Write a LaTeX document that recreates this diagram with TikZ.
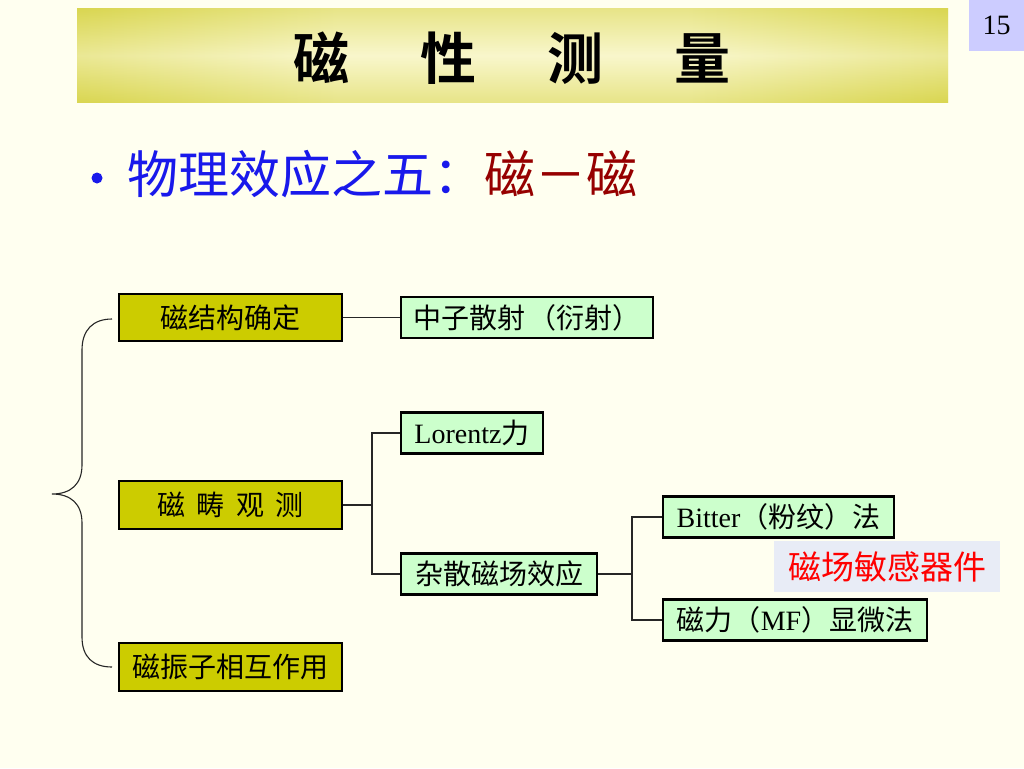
\documentclass[tikz,border=0pt]{standalone}
\usepackage{fontspec}
\setmainfont{Liberation Serif}
\newfontfamily\cjk{Noto Sans CJK SC}
\newfontfamily\cjkb{Noto Sans CJK SC Bold}
\definecolor{bgc}{RGB}{255,255,240}
\definecolor{olv}{RGB}{200,196,12}
\definecolor{lt}{RGB}{249,247,204}
\definecolor{ybox}{RGB}{204,204,0}
\definecolor{gbox}{RGB}{204,255,204}
\definecolor{lav}{RGB}{204,204,255}
\definecolor{bluet}{RGB}{25,25,235}
\definecolor{redt}{RGB}{150,0,0}
\definecolor{sens}{RGB}{232,236,246}
\pgfdeclarehorizontalshading{titlesh}{100bp}{color(0bp)=(olv); color(6bp)=(olv); color(40bp)=(lt); color(60bp)=(lt); color(94bp)=(olv); color(100bp)=(olv)}
\tikzset{
  ybx/.style={draw=black, line width=2.6pt, fill=ybox, inner sep=0pt, font=\fontsize{28}{32}\selectfont},
  gbx/.style={draw=black, line width=2.6pt, fill=gbox, inner sep=0pt, font=\fontsize{28}{32}\selectfont},
  conn/.style={draw=black!85, line width=1.2pt}
}
\begin{document}
\begin{tikzpicture}[x=1pt,y=-1pt]
\useasboundingbox (0,0) rectangle (1024,768);
\fill[bgc] (0,0) rectangle (1024,768);
% title bar
\shade[shading=titlesh] (77,9) rectangle (948,102);
\shade[top color=olv, bottom color=olv, middle color=lt, fill opacity=0.35] (77,9) rectangle (948,102);
\node[font=\fontsize{56}{60}\selectfont] (title) at (512,58) {\cjkb 磁\hspace{71pt}性\hspace{71pt}测\hspace{71pt}量};
% page number
\node[fill=lav, minimum width=55pt, minimum height=51pt, inner sep=0pt, anchor=north west, font=\fontsize{28}{30}\selectfont] (num) at (969,0) {15};
% bullet line
\node[circle, fill=bluet, minimum size=11pt, inner sep=0pt] (bul) at (97,178) {};
\node[anchor=west, inner sep=0pt, font=\fontsize{51}{56}\selectfont] (head) at (127,174) {\cjk\textcolor{bluet}{物理效应之五：}\textcolor{redt}{磁－磁}};
% brace
\draw[line width=1.1pt, black!85] (112,319) .. controls (93,319) and (82,330) .. (82,350) -- (82,465) .. controls (82,484) and (71,494) .. (52,494) .. controls (71,494) and (82,504) .. (82,523) -- (82,637) .. controls (82,657) and (93,667) .. (112,667);
% left boxes
\node[ybx, minimum width=223pt, minimum height=47pt] (a1) at (230.5,317.5) {\cjk 磁结构确定};
\node[ybx, minimum width=223pt, minimum height=48pt] (a2) at (230.5,505) {\cjk 磁\hspace{0.4em}畴\hspace{0.4em}观\hspace{0.4em}测};
\node[ybx, minimum width=223pt, minimum height=48pt] (a3) at (230.5,667) {\cjk 磁振子相互作用};
% green boxes
\node[gbx, minimum width=252pt, minimum height=41pt] (b1) at (527,317.5) {\cjk 中子散射\hspace{0.1em}（衍射）};
\node[gbx, minimum width=142pt, minimum height=41pt] (b2) at (472,433) {Lorentz{\cjk 力}};
\node[gbx, minimum width=196pt, minimum height=41pt] (b3) at (499,574) {\cjk 杂散磁场效应};
\node[gbx, minimum width=231pt, minimum height=41pt] (c1) at (778.5,517) {Bitter{\cjk （粉纹）法}};
\node[gbx, minimum width=264pt, minimum height=41pt] (c2) at (795,620) {{\cjk 磁力（}MF{\cjk ）显微法}};
% sensor label
\node[fill=sens, minimum width=226pt, minimum height=51pt, inner sep=0pt, text=red, font=\fontsize{33}{36}\selectfont] (sens) at (887,566.5) {\cjk 磁场敏感器件};
% connectors
\coordinate (j1) at (372,505);
\coordinate (j2) at (632,574);
\draw[conn] (a1.east) -- (b1.west);
\draw[conn] (a2.east) -- (j1);
\draw[conn] (b2.west) -- (b2.west -| j1) -- (b3.west -| j1) -- (b3.west);
\draw[conn] (b3.east) -- (j2);
\draw[conn] (c1.west) -- (c1.west -| j2) -- (c2.west -| j2) -- (c2.west);
\end{tikzpicture}
\end{document}
